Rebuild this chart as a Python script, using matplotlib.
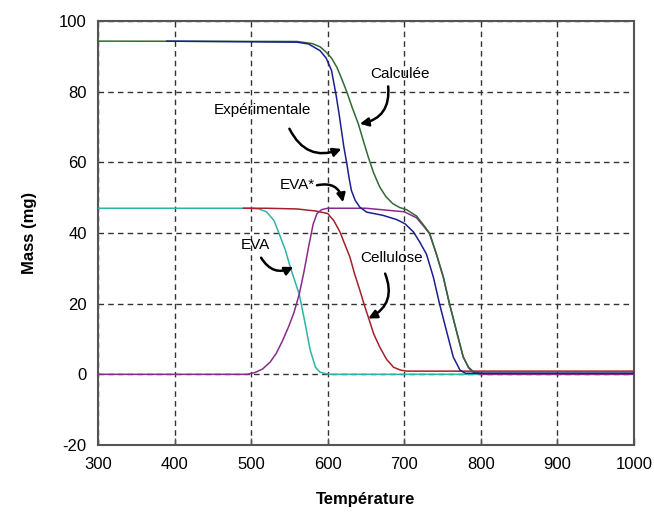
import matplotlib
matplotlib.use("Agg")
import matplotlib.pyplot as plt

plt.rcParams["font.family"] = ["Liberation Sans", "DejaVu Sans"]
plt.rcParams["axes.unicode_minus"] = False

# --- données (T en °C, masse en mg) ---
t_eva = [300, 500, 510, 520, 530, 538, 545, 551, 557, 563, 570, 577, 584, 590, 597, 605, 1000]
m_eva = [47, 47, 46.8, 46, 43.5, 39, 35, 30.4, 26.5, 22.5, 15, 7, 2, 0.6, 0.2, 0, 0]

t_cell = [490, 520, 560, 585, 600, 608, 616, 622, 629, 635, 642, 648, 653, 660, 668,
          677, 686, 695, 703, 1000]
m_cell = [47, 47, 46.8, 46.2, 45.5, 43.5, 40.3, 37, 33.2, 28.5, 23.8, 19.5, 16.2, 11.5,
          7.7, 4.2, 2, 1.2, 0.9, 0.9]

t_evas = [300, 495, 505, 515, 525, 533, 541, 549, 556, 563, 569, 575, 581, 586, 592, 600,
          650, 700, 716, 725, 733, 742, 751, 759, 768, 777, 784, 790, 800, 1000]
m_evas = [0, 0, 0.5, 1.5, 3.5, 6, 9.5, 13.5, 17.5, 22.8, 29, 36, 42.5, 45.5, 46.6, 47,
          47, 46, 44.3, 42, 39.8, 34, 27.5, 20, 12.4, 4.9, 1.8, 0.6, 0, 0]

t_calc = [300, 560, 580, 590, 598, 605, 612, 618, 625, 632, 640, 646, 653, 660, 668, 676,
          685, 694, 703, 716, 725, 733, 742, 751, 759, 768, 777, 784, 790, 800, 1000]
m_calc = [94.3, 94.2, 93.6, 92.7, 91.2, 89.5, 86.9, 83.8, 79.9, 75.5, 70.9, 66.5, 61.5,
          57, 53, 50.3, 48.3, 47.2, 46.6, 44.8, 42.3, 40, 34, 27.5, 20, 12.4, 4.9, 2,
          0.8, 0.3, 0.3]

t_exp = [390, 560, 575, 590, 598, 605, 611, 615, 618, 621, 625, 628, 631, 636, 642, 651,
         672, 690, 701, 712, 720, 729, 738, 746, 755, 764, 773, 780, 1000]
m_exp = [94.3, 94, 93.5, 91.6, 89.5, 86, 79, 73.5, 69, 64.5, 59.6, 55.5, 52, 49.2, 47.3,
         45.9, 45, 43.8, 42.6, 40.3, 37.5, 34, 27.5, 20, 12.4, 4.9, 1.1, 0.3, 0.3]

# annotations : texte, position du texte, départ et pointe de la flèche, courbure
labels = ["Calculée", "Expérimentale", "EVA*", "EVA", "Cellulose"]
label_xy = [(694, 85), (515, 74.7), (560, 53.5), (506, 36.5), (683, 32.8)]
arrow_from = [(679, 81.5), (550, 69.5), (586, 53.5), (513, 33), (675, 28.5)]
arrow_to = [(642, 70.9), (618, 63.8), (620, 48.7), (555, 30.4), (653, 15.8)]
arrow_rad = [-0.45, 0.45, -0.5, 0.45, -0.45]

fig = plt.figure(figsize=(6.54, 5.12), dpi=100)
ax = fig.add_axes([0.1498, 0.1309, 0.8196, 0.8281])

ax.plot(t_eva, m_eva, color="#2bb5a8", lw=1.1, zorder=3)
ax.plot(t_cell, m_cell, color="#a3202c", lw=1.1, zorder=3)
ax.plot(t_evas, m_evas, color="#8a2b8c", lw=1.1, zorder=3)
ax.plot(t_calc, m_calc, color="#2f6a35", lw=1.1, zorder=3)
ax.plot(t_exp, m_exp, color="#1c1f8f", lw=1.1, zorder=4)

for txt, xy, a0, a1, rad in zip(labels, label_xy, arrow_from, arrow_to, arrow_rad):
    ax.text(xy[0], xy[1], txt, ha="center", va="center", fontsize=11, zorder=5)
    ax.annotate("", xy=a1, xytext=a0,
                arrowprops=dict(arrowstyle="-|>,head_length=0.5,head_width=0.25",
                                lw=1.8, color="black", shrinkA=0, shrinkB=0,
                                connectionstyle=f"arc3,rad={rad}"), zorder=5)

ax.set_xlim(300, 1000)
ax.set_ylim(-20, 100)
ax.set_xticks(range(300, 1001, 100))
ax.set_yticks(range(-20, 101, 20))
ax.grid(True, color="#333333", lw=1.0, ls=(0, (4, 3)), zorder=1)
ax.tick_params(axis="x", direction="in", length=5, width=1, color="#555555",
               labelsize=12, pad=9)
ax.tick_params(axis="y", length=0, labelsize=12, pad=8)
for s in ax.spines.values():
    s.set_color("#555555")
    s.set_linewidth(1.5)

ax.set_xlabel("Température", fontsize=12, fontweight="bold", labelpad=14)
ax.set_ylabel("Mass (mg)", fontsize=12, fontweight="bold", labelpad=16)

fig.savefig("out.png", dpi=100)
